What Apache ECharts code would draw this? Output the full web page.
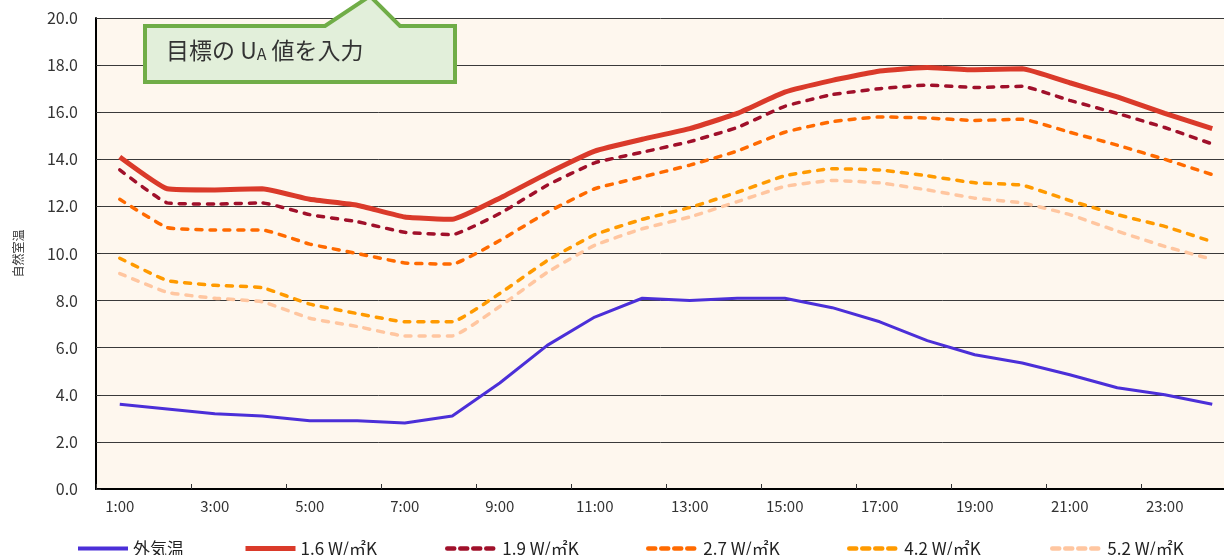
<!DOCTYPE html>
<html>
<head>
<meta charset="utf-8">
<script src="https://cdn.jsdelivr.net/npm/echarts@6/dist/echarts.min.js"></script>
<style>
html,body{margin:0;padding:0;background:#fff;}
#c{width:1224px;height:555px;}
</style>
</head>
<body>
<div id="c"></div>
<script>
const hours = ['1:00','2:00','3:00','4:00','5:00','6:00','7:00','8:00','9:00','10:00','11:00','12:00',
  '13:00','14:00','15:00','16:00','17:00','18:00','19:00','20:00','21:00','22:00','23:00','24:00'];
const seriesNames = ['外気温','1.6 W/㎡K','1.9 W/㎡K','2.7 W/㎡K','4.2 W/㎡K','5.2 W/㎡K'];
const outdoor = [3.6,3.4,3.2,3.1,2.9,2.9,2.8,3.1,4.5,6.1,7.3,8.1,8.0,8.1,8.1,7.7,7.1,6.3,5.7,5.35,4.85,4.3,4.0,3.6];
const ua16 = [14.1,12.75,12.7,12.75,12.3,12.05,11.55,11.45,12.35,13.4,14.35,14.85,15.3,15.95,16.85,17.35,17.75,17.9,17.8,17.85,17.25,16.65,15.95,15.3];
const ua19 = [13.55,12.15,12.1,12.15,11.65,11.35,10.9,10.8,11.7,12.9,13.85,14.3,14.75,15.35,16.25,16.75,17.0,17.15,17.05,17.1,16.5,15.95,15.35,14.65];
const ua27 = [12.3,11.1,11.0,11.0,10.4,10.0,9.6,9.55,10.55,11.75,12.75,13.25,13.75,14.35,15.15,15.6,15.8,15.75,15.65,15.7,15.15,14.6,14.0,13.35];
const ua42 = [9.8,8.85,8.65,8.55,7.85,7.45,7.1,7.1,8.3,9.7,10.8,11.45,11.95,12.6,13.3,13.6,13.55,13.3,13.0,12.9,12.25,11.65,11.15,10.5];
const ua52 = [9.15,8.35,8.1,7.95,7.25,6.9,6.5,6.5,7.75,9.2,10.35,11.05,11.55,12.2,12.85,13.1,13.0,12.7,12.35,12.15,11.65,10.95,10.3,9.75];
const yTitle = '自然室温';
const calloutText = ['目標の U','A',' 値を入力'];

const FONT = '"Noto Sans CJK JP", "Noto Sans", sans-serif';
const colors = ['#4B2FD8','#DA3A2A','#A0102A','#FF6A00','#FF9A00','#FFC6A0'];
const dataSets = [outdoor, ua16, ua19, ua27, ua42, ua52];
const widths = [3, 5, 3.5, 3.5, 3.5, 3.5];
const types = ['solid','solid',[6,8],[6,8],[6,8],[6,8]];
const legendWidths = [4, 5, 4.5, 4.5, 4.5, 4.5];
const legendTypes = ['solid','solid',[7,6],[7,6],[7,6],[7,6]];
const legendLeft = [76, 243, 445, 646, 847, 1050];

const chart = echarts.init(document.getElementById('c'), null, {renderer:'canvas'});

const series = dataSets.map((d,i)=>({
  name: seriesNames[i],
  type: 'line',
  data: d,
  symbol: 'none',
  showSymbol: false,
  smooth: i === 0 ? false : 0.12,
  z: 10 - i,
  lineStyle: {color: colors[i], width: widths[i], type: types[i], cap: i>=2 ? 'round' : 'butt'},
  itemStyle: {color: colors[i]}
}));

const legends = seriesNames.map((n,i)=>({
  data: [n],
  left: legendLeft[i],
  top: 540,
  itemWidth: 50,
  itemHeight: 16,
  itemGap: 4,
  padding: 0,
  itemStyle: {opacity: 0},
  lineStyle: {width: legendWidths[i], type: legendTypes[i], cap: i >= 2 ? 'round' : 'butt'},
  textStyle: {fontFamily: FONT, fontSize: 17, color: '#222', padding:[4,0,0,0]}
}));

chart.setOption({
  animation: false,
  backgroundColor: '#ffffff',
  grid: {left: 96, right: -12, top: 18, bottom: 66, show: true, backgroundColor: '#FEF7EE', borderWidth: 0,
         containLabel: false, outerBoundsMode: 'none'},
  legend: legends,
  xAxis: {
    type: 'category',
    data: hours,
    boundaryGap: true,
    axisLine: {lineStyle: {color: '#000', width: 2}},
    axisTick: {show: true, inside: true, length: 5, lineStyle: {color: '#333'}},
    axisLabel: {interval: 1, fontFamily: FONT, fontSize: 15, color: '#333', margin: 10},
    splitLine: {show: false}
  },
  yAxis: {
    type: 'value',
    min: 0, max: 20, interval: 2,
    name: yTitle,
    nameLocation: 'middle',
    nameRotate: 90,
    nameGap: 72,
    nameTextStyle: {fontFamily: FONT, fontSize: 12, color: '#333'},
    axisLine: {show: true, lineStyle: {color: '#000', width: 2}},
    axisTick: {show: true, inside: true, length: 5, lineStyle: {color: '#333'}},
    axisLabel: {formatter: v => v.toFixed(1), fontFamily: FONT, fontSize: 16, color: '#333', margin: 18},
    splitLine: {show: true, lineStyle: {color: '#3a3a3a', width: 1}}
  },
  series: series,
  graphic: [
    {
      type: 'polygon',
      z: 100,
      shape: {points: [[145,26],[325,26],[370,-4],[400,26],[455,26],[455,82],[145,82]]},
      style: {fill: '#E2EFDA', stroke: '#70AD47', lineWidth: 4, lineJoin: 'miter'}
    },
    {
      type: 'text',
      z: 101,
      left: 166,
      top: 39,
      style: {
        text: '{a|' + calloutText[0] + '}{b|' + calloutText[1] + '}{a|' + calloutText[2] + '}',
        rich: {
          a: {fontFamily: FONT, fontSize: 23, fill: '#333', color: '#333', verticalAlign: 'bottom', lineHeight: 32},
          b: {fontFamily: FONT, fontSize: 16, fill: '#333', color: '#333', verticalAlign: 'bottom', lineHeight: 27}
        }
      }
    }
  ]
});
</script>
</body>
</html>
